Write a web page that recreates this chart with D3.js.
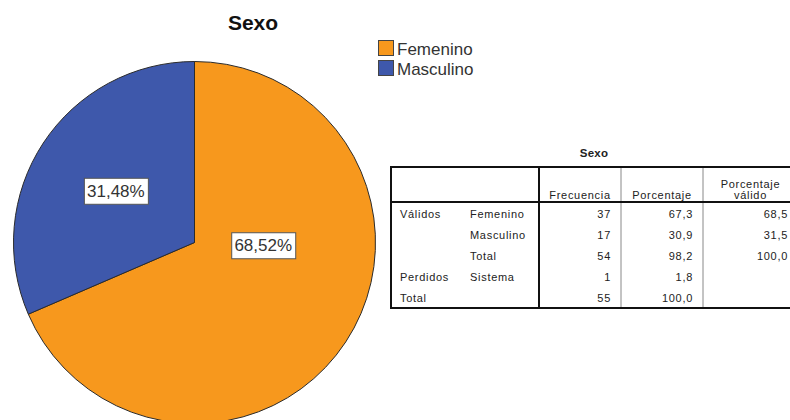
<!DOCTYPE html>
<meta charset="utf-8">
<script src="https://d3js.org/d3.v7.min.js"></script>
<style>
  body { margin: 0; background: #fff; font-family: 'Liberation Sans', Arial, sans-serif; }
</style>
<body>
<svg width="790" height="420"></svg>
</body>
<script>

// chart data
var categories = ["Femenino", "Masculino"];
var counts = [37, 17];
var colors = ["#f7981d", "#3e58ab"];

// table data
var tableTitle = "Sexo";
var colHeaders = [["Frecuencia"], ["Porcentaje"], ["Porcentaje", "válido"]];
var rowGroups = ["Válidos", "", "", "Perdidos", "Total"];
var rowLabels = ["Femenino", "Masculino", "Total", "Sistema", ""];
var frecuencia = ["37", "17", "54", "1", "55"];
var porcentaje = ["67,3", "30,9", "98,2", "1,8", "100,0"];
var porcValido = ["68,5", "31,5", "100,0", "", ""];

var svg = d3.select("svg");
var total = d3.sum(counts);

// title
svg.append("text")
    .attr("x", 253)
    .attr("y", 30)
    .attr("text-anchor", "middle")
    .attr("font-size", 21)
    .attr("font-weight", "bold")
    .attr("fill", "#111")
    .text("Sexo");

// pie
var cx = 194.5, cy = 242.5, radius = 181;
var g = svg.append("g").attr("transform", "translate(" + cx + "," + cy + ")");

var pie = d3.pie().sort(null).value(function(d) { return d; });
var arc = d3.arc().innerRadius(0).outerRadius(radius);
var arcs = pie(counts);

g.selectAll("path")
  .data(arcs)
  .enter().append("path")
    .attr("d", arc)
    .attr("fill", function(d, i) { return colors[i]; })
    .attr("stroke", "#2b2b2b")
    .attr("stroke-width", 1);

// labels: small slices at centroid, big slice pushed toward the right
function labelPos(d) {
  var span = d.endAngle - d.startAngle;
  if (span > Math.PI) return d3.pointRadial(Math.PI / 2 + 0.04, radius * 0.38);
  return d3.pointRadial((d.startAngle + d.endAngle) / 2, radius * 0.52);
}

var fmt = function(v) { return (v / total * 100).toFixed(2).replace(".", ",") + "%"; };

var labels = g.selectAll("g.lbl")
  .data(arcs)
  .enter().append("g")
    .attr("class", "lbl")
    .attr("transform", function(d) { var p = labelPos(d); return "translate(" + p[0] + "," + p[1] + ")"; });

labels.append("text")
    .attr("text-anchor", "middle")
    .attr("dy", "0.36em")
    .attr("font-size", 17)
    .attr("fill", "#333")
    .text(function(d) { return fmt(d.value); });

labels.each(function() {
  var grp = d3.select(this);
  var bb = grp.select("text").node().getBBox();
  grp.insert("rect", "text")
    .attr("x", Math.round(bb.x - 3) + 0.5)
    .attr("y", -12.5)
    .attr("width", Math.round(bb.width + 6))
    .attr("height", 26)
    .attr("fill", "#fff")
    .attr("stroke", "#555")
    .attr("stroke-width", 1);
});

// legend
var legend = svg.append("g")
  .selectAll("g")
  .data(categories)
  .enter().append("g")
    .attr("transform", function(d, i) { return "translate(378," + (40 + i * 20) + ")"; });

legend.append("rect")
    .attr("x", 0.5)
    .attr("y", 0.5)
    .attr("width", 15)
    .attr("height", 15)
    .attr("fill", function(d, i) { return colors[i]; })
    .attr("stroke", "#444");

legend.append("text")
    .attr("x", 19)
    .attr("y", 15)
    .attr("font-size", 17)
    .attr("fill", "#333")
    .text(function(d) { return d; });

// table
var t = svg.append("g").attr("font-size", 11).attr("fill", "#222").attr("letter-spacing", 0.7);
var tLeft = 391, tTop = 167, tBottom = 308, headBottom = 202, tRight = 798;
var colX = [539, 621, 703, tRight];

t.append("text")
    .attr("x", 594)
    .attr("y", 157)
    .attr("text-anchor", "middle")
    .attr("font-weight", "bold")
    .attr("font-size", 11.5)
    .attr("letter-spacing", 0.3)
    .text(tableTitle);

var y = d3.scaleLinear().domain([0, 4]).range([218, 302]);

// headers
colHeaders.forEach(function(h, i) {
  var mid = (colX[i] + colX[i + 1]) / 2;
  h.forEach(function(line, j) {
    t.append("text")
      .attr("x", mid)
      .attr("y", 198.5 - (h.length - 1 - j) * 10.5)
      .attr("text-anchor", "middle")
      .text(line);
  });
});

// body
rowLabels.forEach(function(r, i) {
  t.append("text").attr("x", 400).attr("y", y(i)).text(rowGroups[i]);
  t.append("text").attr("x", 470).attr("y", y(i)).text(r);
  [frecuencia, porcentaje, porcValido].forEach(function(col, c) {
    t.append("text")
      .attr("x", colX[c + 1] - 10)
      .attr("y", y(i))
      .attr("text-anchor", "end")
      .text(col[i]);
  });
});

// grid lines
var lines = svg.append("g").attr("stroke", "#111");
lines.append("line").attr("x1", 621).attr("x2", 621).attr("y1", tTop).attr("y2", tBottom).attr("stroke", "#888").attr("stroke-width", 1);
lines.append("line").attr("x1", 703).attr("x2", 703).attr("y1", tTop).attr("y2", tBottom).attr("stroke", "#888").attr("stroke-width", 1);
lines.append("line").attr("x1", 539).attr("x2", 539).attr("y1", tTop).attr("y2", tBottom).attr("stroke-width", 2);
lines.append("line").attr("x1", tLeft).attr("x2", tRight).attr("y1", headBottom).attr("y2", headBottom).attr("stroke-width", 2);
lines.append("rect")
    .attr("x", tLeft).attr("y", tTop)
    .attr("width", tRight - tLeft).attr("height", tBottom - tTop)
    .attr("fill", "none").attr("stroke-width", 2);

</script>
